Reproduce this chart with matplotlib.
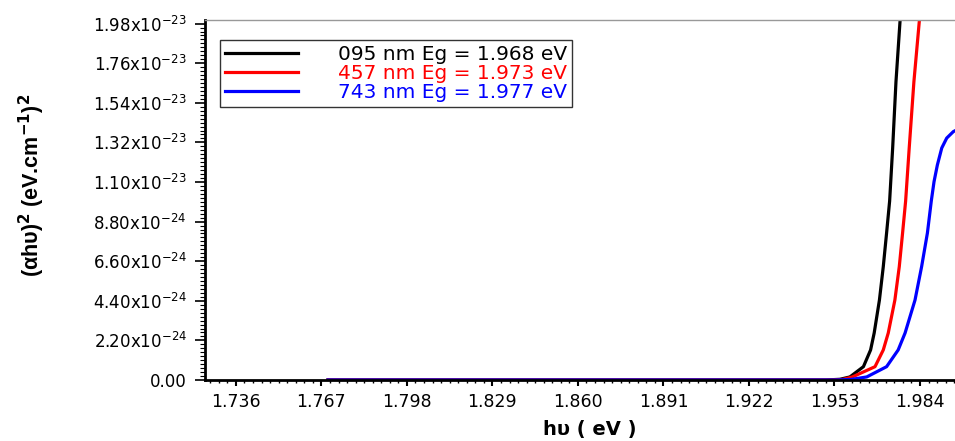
import matplotlib
matplotlib.use("Agg")
import matplotlib.pyplot as plt
from matplotlib import font_manager
from matplotlib.ticker import MultipleLocator, FixedLocator, FixedFormatter

plt.rcParams['font.family'] = ['DejaVu Sans']
plt.rcParams['mathtext.fontset'] = 'dejavusans'
plt.rcParams['mathtext.default'] = 'regular'

_names = {f.name for f in font_manager.fontManager.ttflist}
ylab_family = 'Liberation Sans Narrow' if 'Liberation Sans Narrow' in _names else 'Liberation Sans'

# ---- data ----
labels = ["095 nm Eg = 1.968 eV", "457 nm Eg = 1.973 eV", "743 nm Eg = 1.977 eV"]
colors = ["black", "red", "blue"]

hv_095 = [1.7694, 1.80, 1.85, 1.90, 1.94, 1.9500, 1.9550, 1.9586, 1.9635, 1.9661,
          1.9674, 1.9693, 1.9707, 1.9719, 1.9730, 1.9741, 1.9753, 1.9768, 1.9778]
ab_095 = [0, 0, 0, 0, 0, 0, 0.04e-24, 0.17e-24, 0.74e-24, 1.67e-24,
          2.61e-24, 4.44e-24, 6.30e-24, 8.17e-24, 9.94e-24, 1.289e-23, 1.657e-23, 2.00e-23, 2.30e-23]

hv_457 = [1.7694, 1.80, 1.85, 1.90, 1.94, 1.9520, 1.9560, 1.9595, 1.9677, 1.9707,
          1.9725, 1.9749, 1.9765, 1.9777, 1.9788, 1.9801, 1.9818, 1.9838, 1.9847]
ab_457 = [0, 0, 0, 0, 0, 0, 0.03e-24, 0.17e-24, 0.74e-24, 1.67e-24,
          2.61e-24, 4.44e-24, 6.30e-24, 8.17e-24, 9.94e-24, 1.289e-23, 1.657e-23, 2.00e-23, 2.30e-23]

hv_743 = [1.7694, 1.80, 1.85, 1.90, 1.94, 1.9530, 1.9590, 1.9647, 1.9719, 1.9761,
          1.9786, 1.9822, 1.9846, 1.9867, 1.9881, 1.9891, 1.9903, 1.9919, 1.9937,
          1.9961, 1.9974]
ab_743 = [0, 0, 0, 0, 0, 0, 0.03e-24, 0.17e-24, 0.74e-24, 1.67e-24,
          2.61e-24, 4.44e-24, 6.30e-24, 8.17e-24, 9.94e-24, 1.102e-23, 1.194e-23,
          1.289e-23, 1.344e-23, 1.380e-23, 1.390e-23]

x_ticks = [1.736, 1.767, 1.798, 1.829, 1.860, 1.891, 1.922, 1.953, 1.984]
y_ticks = [0, 2.2e-24, 4.4e-24, 6.6e-24, 8.8e-24, 1.1e-23, 1.32e-23, 1.54e-23, 1.76e-23, 1.98e-23]
y_ticklabels = ["0.00", "2.20x10$^{-24}$", "4.40x10$^{-24}$", "6.60x10$^{-24}$",
                "8.80x10$^{-24}$", "1.10x10$^{-23}$", "1.32x10$^{-23}$", "1.54x10$^{-23}$",
                "1.76x10$^{-23}$", "1.98x10$^{-23}$"]

fig = plt.figure(figsize=(9.55, 4.41), dpi=100)
ax = fig.add_axes([205/955, 1-380/441, 1-205/955, (380-20)/441])

for hv, ab, c, lab in zip([hv_095, hv_457, hv_743], [ab_095, ab_457, ab_743], colors, labels):
    ax.plot(hv, ab, color=c, lw=2.3, label=lab, solid_joinstyle='round')

ax.set_xlim(1.7248, 1.9967)
ax.set_ylim(0, 2.0e-23)

ax.xaxis.set_major_locator(FixedLocator(x_ticks))
ax.xaxis.set_major_formatter(FixedFormatter([f"{v:.3f}" for v in x_ticks]))
ax.xaxis.set_minor_locator(MultipleLocator(0.0031))
ax.yaxis.set_major_locator(FixedLocator(y_ticks))
ax.yaxis.set_major_formatter(FixedFormatter(y_ticklabels))
ax.yaxis.set_minor_locator(MultipleLocator(2.2e-25))

ax.tick_params(axis='x', which='major', direction='out', length=4.5, width=1.5,
               labelsize=12.5, pad=5)
ax.tick_params(axis='x', which='minor', direction='out', length=2.3, width=1.0)
ax.tick_params(axis='y', which='major', direction='out', length=7, width=1.2,
               labelsize=12, pad=6)
ax.tick_params(axis='y', which='minor', direction='out', length=3.5, width=0.8)

ax.spines['right'].set_visible(False)
ax.spines['top'].set_color('#999999')
ax.spines['top'].set_linewidth(1.0)
ax.spines['left'].set_linewidth(2)
ax.spines['bottom'].set_linewidth(2)

ax.set_xlabel("h\u03c5 ( eV )", fontsize=14, fontweight='bold')
ax.xaxis.set_label_coords((590 - 205) / 750, -(420 - 380) / 360)
ax.xaxis.label.set_va('top')

ax.set_ylabel("(\u03b1h\u03c5)$^{\\mathbf{2}}$ (eV.cm$^{\\mathbf{-1}}$)$^{\\mathbf{2}}$",
              fontsize=15.5, fontweight='bold', family=[ylab_family, 'DejaVu Sans'])
ax.yaxis.set_label_coords(-(205 - 47) / 750, (380 - 185) / 360)

leg = ax.legend(loc='upper left', bbox_to_anchor=(15/750, 1-20/360), frameon=True,
                fancybox=False, edgecolor='black', fontsize=14.5, labelcolor='linecolor',
                handlelength=3.6, handletextpad=2.0, borderpad=0.25, labelspacing=0.0,
                borderaxespad=0)
leg.get_frame().set_linewidth(1.0)

fig.savefig("out.png", dpi=100)
